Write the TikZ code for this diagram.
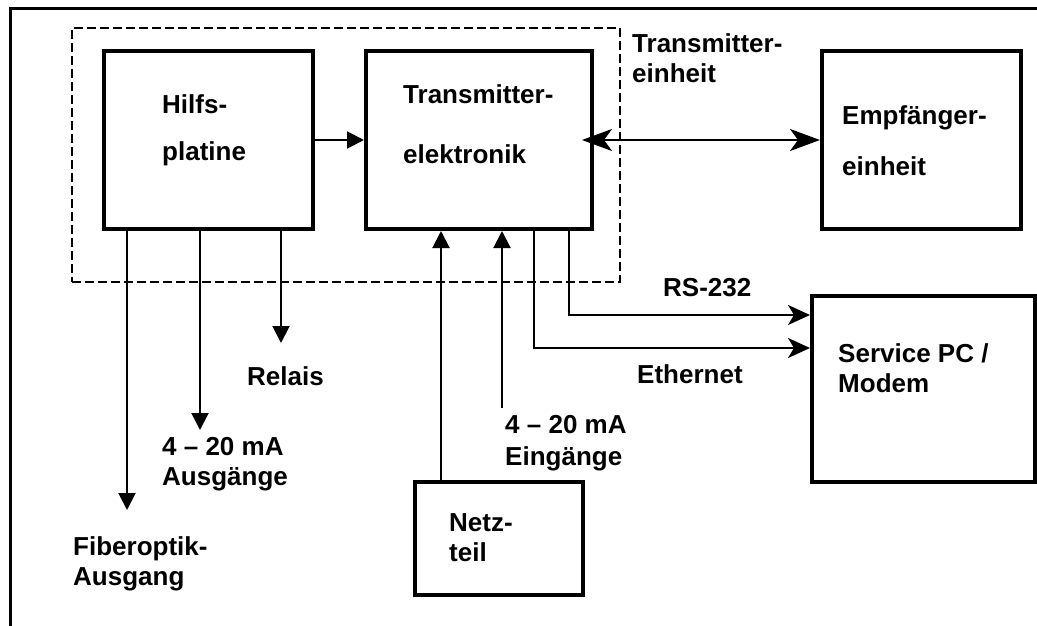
\documentclass[tikz,border=0pt]{standalone}
\usepackage{fontspec}
\setmainfont{Liberation Sans}
\usetikzlibrary{arrows.meta,positioning,calc}
\tikzset{modbox/.style={draw,line width=4pt,inner sep=0pt},modarr/.style={-{Triangle[length=17pt,width=17pt]},line width=2pt},modlink/.style={-{Stealth[length=22pt,width=20pt,inset=6pt]},line width=2pt},modlabel/.style={font=\fontsize{26}{30}\selectfont\bfseries,align=left,anchor=base west,inner sep=0pt}}

\begin{document}
\begin{tikzpicture}[x=1pt,y=-1pt]
\useasboundingbox (0,0) rectangle (1037,626);
\draw[line width=3pt] (10,626)--(10,8.5)--(1037,8.5);
\node[draw,dash pattern=on 9pt off 4pt,line width=2.5pt,minimum width=548pt,minimum height=254pt] (unit) at (346,155) {};
\node[modbox,minimum width=209pt,minimum height=178pt] (hilfs) at (208.5,140) {};
\node[modbox,minimum width=226pt,minimum height=178pt] (trans) at (479,140) {};
\node[modbox,minimum width=199pt,minimum height=178pt] (empf) at (921.5,140) {};
\node[modbox,minimum width=223pt,minimum height=186pt] (service) at (923.5,389) {};
\node[modbox,minimum width=168pt,minimum height=113pt] (netz) at (499,538.5) {};
\node[modlabel] (hilfstext) at (162,160) {Hilfs-\\[17pt]platine};
\node[modlabel] (transtext) at (403,163) {Transmitter-\\[30pt]elektronik};
\node[modlabel] (empftext) at (842,175) {Empfänger-\\[21pt]einheit};
\node[modlabel] (unittext) at (632,82) {Transmitter-\\einheit};
\node[modlabel] (servicetext) at (838,392) {Service PC /\\Modem};
\node[modlabel] (netztext) at (449,561) {Netz-\\teil};
\node[modlabel] (rstext) at (663,296) {RS-232};
\node[modlabel] (ethtext) at (637,383) {Ethernet};
\node[modlabel] (relaistext) at (247,385) {Relais};
\node[modlabel] (aouttext) at (162,485) {4 -- 20 mA\\Ausgänge};
\node[modlabel] (fibretext) at (73,585) {Fiberoptik-\\Ausgang};
\node[modlabel] (aintext) at (505,465) {4 -- 20 mA\\[2pt]Eingänge};
% outputs of the auxiliary board
\coordinate (fibre) at (127,510);
\coordinate (aout) at (200,430);
\coordinate (relais) at (281,343);
\draw[modarr] (hilfs.south -| fibre)--(fibre);
\draw[modarr] (hilfs.south -| aout)--(aout);
\draw[modarr] (hilfs.south -| relais)--(relais);
\draw[modarr] (hilfs.east)--(trans.west);
\draw[line width=2pt,{Stealth[length=30pt,width=22pt,inset=8pt]}-{Stealth[length=30pt,width=22pt,inset=8pt]},shorten <=-12pt] (trans.east)--(empf.west);
% inputs of the transmitter
\coordinate (power) at (441,0);
\coordinate (ain) at (502,408);
\draw[modarr] (netz.north -| power)--(trans.south -| power);
\draw[modarr] (ain)--(trans.south -| ain);
\coordinate (rs) at (569,315);
\coordinate (eth) at (534,348);
\draw[modlink] (trans.south -| rs) |- (service.west |- rs);
\draw[modlink] (trans.south -| eth) |- (service.west |- eth);
\end{tikzpicture}
\end{document}
